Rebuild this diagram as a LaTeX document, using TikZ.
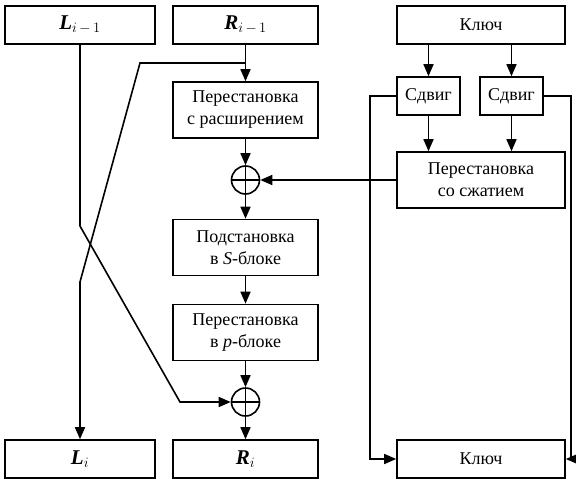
\documentclass[tikz,border=0pt]{standalone}
\usepackage{fontspec}
\setmainfont{Liberation Serif}
\usetikzlibrary{arrows.meta}
\begin{document}
\begin{tikzpicture}[x=1pt,y=-1pt,line width=1.6pt,
  box/.style={draw,line width=1.6pt,minimum height=38pt,inner sep=0pt,align=center,font=\fontsize{18}{22}\selectfont},
  lr/.style={box,font=\fontsize{21}{24}\selectfont},
  xr/.style={draw,circle,minimum size=28pt,inner sep=0pt},
  >={Triangle[length=12pt,width=10pt]}]
\useasboundingbox (0,0) rectangle (576,490);
\node[lr,minimum width=150pt] (1) at (80,25) {\textbf{\textit{L}}$_{i\,-\,1}$};
\node[lr,minimum width=145pt] (2) at (245.5,25) {\textbf{\textit{R}}$_{i\,-\,1}$};
\node[box,minimum width=168pt] (3) at (481,25) {Ключ};
\node[box,minimum width=63pt] (4) at (428.5,96) {Сдвиг};
\node[box,minimum width=63pt] (5) at (511.5,96) {Сдвиг};
\node[box,minimum width=145pt,minimum height=56pt] (6) at (245.5,110) {Перестановка\\с расширением};
\node[box,minimum width=168pt,minimum height=56pt] (7) at (481,180) {Перестановка\\со сжатием};
\node[xr] (8) at (245.5,180) {};
\node[box,minimum width=145pt,minimum height=56pt] (9) at (245.5,247.5) {Подстановка\\в \textit{S}-блоке};
\node[box,minimum width=145pt,minimum height=56pt] (10) at (245.5,332.5) {Перестановка\\в \textit{p}-блоке};
\node[xr] (11) at (245.5,402) {};
\node[lr,minimum width=150pt] (12) at (80,459) {\textbf{\textit{L}}$_{i}$};
\node[lr,minimum width=145pt] (13) at (245.5,459) {\textbf{\textit{R}}$_{i}$};
\node[box,minimum width=168pt] (14) at (481,459) {Ключ};
% plus signs
\draw (8.north) -- (8.south) (8.west) -- (8.east);
\draw (11.north) -- (11.south) (11.west) -- (11.east);
% crossing lines
\coordinate (a) at (80,226);
\coordinate (b) at (180,402);
\coordinate (c) at (245.5,63);
\coordinate (d) at (140,63);
\coordinate (e) at (80,282);
\draw[->] (1) -- (a) -- (b) -- (11);
\draw[->] (c) -- (d) -- (e) -- (12);
% right column
\draw[->] (2) -- (6);
\draw[->] (6) -- (8);
\draw[->] (8) -- (9);
\draw[->] (9) -- (10);
\draw[->] (10) -- (11);
\draw[->] (11) -- (13);
\draw[->] (7) -- (8);
% key schedule
\draw[->] (3.south -| 4.north) -- (4.north);
\draw[->] (3.south -| 5.north) -- (5.north);
\draw[->] (4) -- (4 |- 7.north);
\draw[->] (5) -- (5 |- 7.north);
\draw[->] (4.west) -- ++(-26,0) |- (14.west);
\draw[->] (5.east) -- ++(27,0) |- (14.east);
\end{tikzpicture}
\end{document}
